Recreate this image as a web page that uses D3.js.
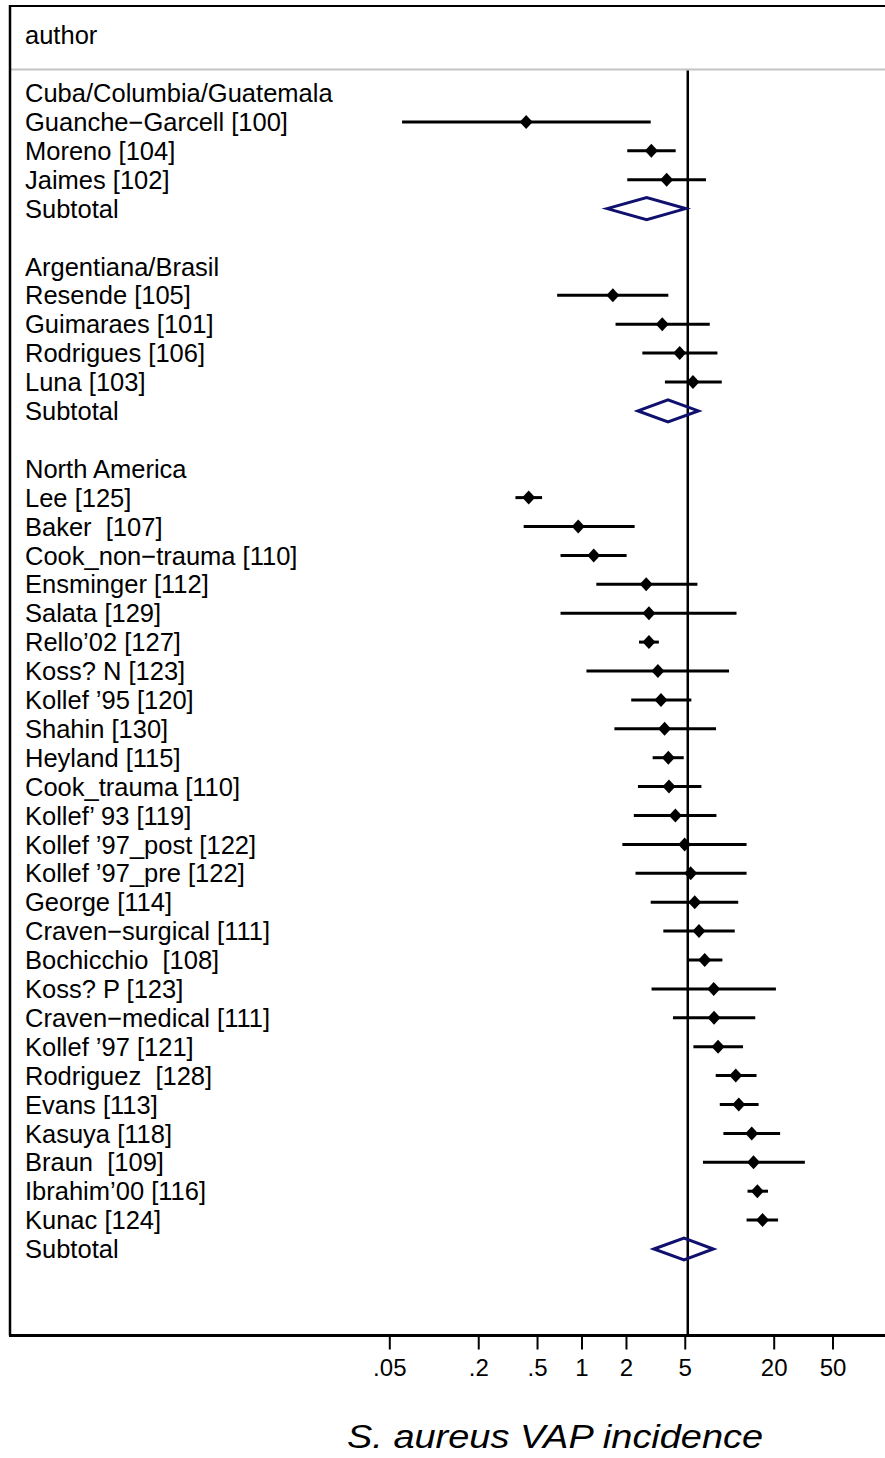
<!DOCTYPE html>
<html>
<head>
<meta charset="utf-8">
<script src="https://cdn.jsdelivr.net/npm/d3@7"></script>
<style>
  html, body { margin: 0; padding: 0; background: #fff; }
  svg { display: block; }
  text { font-family: "Liberation Sans", Arial, Helvetica, sans-serif; fill: #000; white-space: pre; }
</style>
</head>
<body>
<svg id="chart" width="885" height="1458"></svg>
<script>
// ---- data ----
const rowLabels = [
  "Cuba/Columbia/Guatemala", "Guanche\u2212Garcell [100]", "Moreno [104]", "Jaimes [102]", "Subtotal", "",
  "Argentiana/Brasil", "Resende [105]", "Guimaraes [101]", "Rodrigues [106]", "Luna [103]", "Subtotal", "",
  "North America", "Lee [125]", "Baker  [107]", "Cook_non\u2212trauma [110]", "Ensminger [112]", "Salata [129]",
  "Rello\u201902 [127]", "Koss? N [123]", "Kollef \u201995 [120]", "Shahin [130]", "Heyland [115]",
  "Cook_trauma [110]", "Kollef\u2019 93 [119]", "Kollef \u201997_post [122]", "Kollef \u201997_pre [122]",
  "George [114]", "Craven\u2212surgical [111]", "Bochicchio  [108]", "Koss? P [123]",
  "Craven\u2212medical [111]", "Kollef \u201997 [121]", "Rodriguez  [128]", "Evans [113]", "Kasuya [118]",
  "Braun  [109]", "Ibrahim\u201900 [116]", "Kunac [124]", "Subtotal"
];
// row kind: h = group header, s = study, t = subtotal, b = blank
const rowKinds = ["h","s","s","s","t","b","h","s","s","s","s","t","b","h",
  "s","s","s","s","s","s","s","s","s","s","s","s","s","s","s","s","s","s","s","s","s","s","s","s","s","s","t"];
const estimates = [null,0.422,2.97,3.77,2.76,null,null,1.63,3.52,4.62,5.68,3.85,null,null,
  0.439,0.95,1.21,2.74,2.86,2.86,3.29,3.45,3.65,3.87,3.91,4.32,4.99,5.48,5.84,6.24,6.82,7.85,7.89,8.4,
  11.07,11.6,14.2,14.6,15.5,16.8,4.94];
const lowerCI = [null,0.061,2.04,2.04,1.49,null,null,0.684,1.70,2.58,3.67,2.41,null,null,
  0.357,0.406,0.721,1.26,0.721,2.45,1.08,2.17,1.67,3.03,2.41,2.26,1.89,2.32,2.94,3.58,5.25,2.98,4.16,5.72,
  8.1,8.63,9.13,6.64,13.3,13.1,3.09];
const upperCI = [null,2.94,4.34,6.96,5.07,null,null,3.87,7.38,8.32,8.9,6.18,null,null,
  0.541,2.29,2.02,6.09,11.2,3.34,9.97,5.54,8.14,4.92,6.48,8.19,13.1,13.1,11.5,10.9,8.99,20.7,15.0,12.4,
  15.3,15.8,22.1,32.5,18.3,21.4,7.81];
const tickValues = [0.05, 0.2, 0.5, 1, 2, 5, 20, 50];
const tickLabels = [".05", ".2", ".5", "1", "2", "5", "20", "50"];
const referenceValue = 5.24;
const headerLabel = "author";
const axisTitle = "S. aureus VAP incidence";

// ---- layout ----
const svg = d3.select("#chart");
const x = d3.scaleLog().domain([0.05, 50]).range([389.3, 832.5]);
const y = d3.scaleLinear().domain([0, 40]).range([93, 93 + 28.9 * 40]);
const frameLeft = 10, frameRight = 885, frameTop = 6, headerLine = 69.5, axisY = 1335.5;

// header
svg.append("text").attr("x", 25).attr("y", 35).attr("dy", "0.35em")
  .style("font-size", "25.5px").text(headerLabel);

// frame lines
svg.append("line").attr("x1", frameLeft).attr("x2", frameRight).attr("y1", frameTop).attr("y2", frameTop)
  .attr("stroke", "#000").attr("stroke-width", 2);
svg.append("line").attr("x1", frameLeft).attr("x2", frameRight).attr("y1", headerLine).attr("y2", headerLine)
  .attr("stroke", "#c4c4c4").attr("stroke-width", 2);
svg.append("line").attr("x1", frameLeft).attr("x2", frameLeft).attr("y1", frameTop - 1).attr("y2", axisY)
  .attr("stroke", "#000").attr("stroke-width", 2.5);

// reference line
svg.append("line").attr("x1", x(referenceValue)).attr("x2", x(referenceValue))
  .attr("y1", headerLine + 1).attr("y2", axisY)
  .attr("stroke", "#000").attr("stroke-width", 2.5);

// row labels
svg.append("g").selectAll("text").data(rowLabels).join("text")
  .attr("x", 25).attr("y", (d, i) => y(i)).attr("dy", "0.36em")
  .style("font-size", "25.5px").text(d => d);

const idx = d3.range(rowLabels.length);
const studies = idx.filter(i => rowKinds[i] === "s");
const subtotals = idx.filter(i => rowKinds[i] === "t");

// CI lines
svg.append("g").selectAll("line").data(studies).join("line")
  .attr("x1", i => x(lowerCI[i])).attr("x2", i => x(upperCI[i]))
  .attr("y1", i => y(i)).attr("y2", i => y(i))
  .attr("stroke", "#000").attr("stroke-width", 3);

// point markers
svg.append("g").selectAll("path").data(studies).join("path")
  .attr("d", i => {
    const cx = x(estimates[i]), cy = y(i), w = 6.5, h = 7;
    return `M${cx - w},${cy}L${cx},${cy - h}L${cx + w},${cy}L${cx},${cy + h}Z`;
  })
  .attr("fill", "#000");

// subtotal diamonds
svg.append("g").selectAll("path").data(subtotals).join("path")
  .attr("d", i => {
    const cy = y(i), h = 11;
    return `M${x(lowerCI[i])},${cy}L${x(estimates[i])},${cy - h}L${x(upperCI[i])},${cy}L${x(estimates[i])},${cy + h}Z`;
  })
  .attr("fill", "none").attr("stroke", "#10106e").attr("stroke-width", 3).attr("stroke-linejoin", "miter");

// x axis
const axis = d3.axisBottom(x).tickValues(tickValues)
  .tickFormat((d, i) => tickLabels[i]).tickSize(14).tickPadding(9);
const gAxis = svg.append("g").attr("transform", `translate(0,${axisY})`).call(axis);
gAxis.select(".domain").remove();
gAxis.selectAll(".tick line").attr("stroke", "#000").attr("stroke-width", 2);
gAxis.selectAll(".tick text").style("font-size", "24px")
  .style("font-family", '"Liberation Sans", Arial, sans-serif').attr("fill", "#000");
svg.append("line").attr("x1", frameLeft - 1).attr("x2", frameRight).attr("y1", axisY).attr("y2", axisY)
  .attr("stroke", "#000").attr("stroke-width", 3);

// axis title
svg.append("text").attr("transform", "translate(347,1448) scale(1.15,1)")
  .style("font-size", "33px").style("font-style", "italic").text(axisTitle);
</script>
</body>
</html>
